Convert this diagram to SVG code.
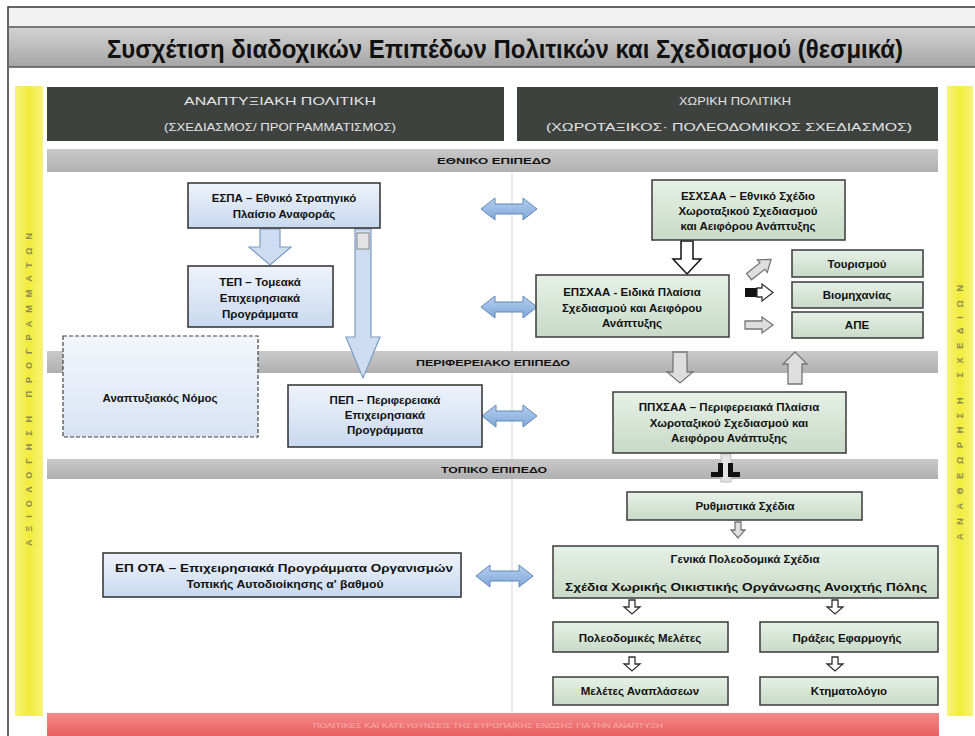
<svg xmlns="http://www.w3.org/2000/svg" width="975" height="736" viewBox="0 0 975 736">
<defs>
<linearGradient id="gTitle" x1="0" y1="0" x2="0" y2="1"><stop offset="0" stop-color="#d2d2d2"/><stop offset="0.5" stop-color="#bdbdbd"/><stop offset="1" stop-color="#a4a4a4"/></linearGradient>
<linearGradient id="gBand" x1="0" y1="0" x2="0" y2="1"><stop offset="0" stop-color="#c9c9c9"/><stop offset="1" stop-color="#b0b0b0"/></linearGradient>
<linearGradient id="gBlue" x1="0" y1="0" x2="0" y2="1"><stop offset="0" stop-color="#eef3fb"/><stop offset="1" stop-color="#c9d9ef"/></linearGradient>
<linearGradient id="gGreen" x1="0" y1="0" x2="0" y2="1"><stop offset="0" stop-color="#e6f1e6"/><stop offset="1" stop-color="#c8dac8"/></linearGradient>
<linearGradient id="gDash" x1="0" y1="0" x2="0" y2="1"><stop offset="0" stop-color="#f4f7fc"/><stop offset="1" stop-color="#d7e3f3"/></linearGradient>
<linearGradient id="gArrow" x1="0" y1="0" x2="0" y2="1"><stop offset="0" stop-color="#b5cfee"/><stop offset="1" stop-color="#7fa7d8"/></linearGradient>
<linearGradient id="gRed" x1="0" y1="0" x2="0" y2="1"><stop offset="0" stop-color="#f58a8a"/><stop offset="1" stop-color="#ea5e60"/></linearGradient>
<linearGradient id="gYel" x1="0" y1="0" x2="1" y2="0"><stop offset="0" stop-color="#f7f27a"/><stop offset="0.5" stop-color="#f2ec3c"/><stop offset="1" stop-color="#f7f27a"/></linearGradient>
<style>
.frame{fill:none;stroke:#333;stroke-width:1.5}
.hdr{fill:#3d423e}
.hdrt{font-family:'Liberation Sans Narrow','Liberation Sans',Arial,sans-serif;font-size:11px;fill:#e4e4e4;text-anchor:middle}
.band{fill:url(#gBand)}
.bandt{font-family:'Liberation Sans',Arial,sans-serif;font-weight:bold;font-size:9.5px;fill:#111;text-anchor:middle}
.blue{fill:url(#gBlue);stroke:#2f2f2f;stroke-width:1.5}
.green{fill:url(#gGreen);stroke:#3a3a3a;stroke-width:1.5}
.dash{fill:url(#gDash);stroke:#444;stroke-width:1.2;stroke-dasharray:4 2}
.t{font-family:'Liberation Sans',Arial,sans-serif;font-weight:bold;font-size:11.5px;fill:#111;text-anchor:middle}
.side{font-family:'Liberation Sans',Arial,sans-serif;font-weight:bold;font-size:9px;fill:#8d8a55;text-anchor:middle;letter-spacing:3px}
.dbl{fill:url(#gArrow);stroke:#5f88bb;stroke-width:1}
.lb{fill:#cddcf0;stroke:#7b9cc4;stroke-width:1.2}
.wo{fill:#ffffff;stroke:#111;stroke-width:1.5}
.go{fill:#dedede;stroke:#777;stroke-width:1.3}
.so{fill:#ffffff;stroke:#333;stroke-width:1.3}
</style>
</defs>
<rect x="0" y="0" width="975" height="736" fill="#ffffff"/>
<rect x="8" y="7" width="970" height="735" class="frame"/>
<rect x="9" y="8" width="966" height="19" fill="#f2f2f2"/>
<!-- title band -->
<rect x="9" y="27" width="966" height="40" fill="url(#gTitle)"/>
<line x1="9" y1="27" x2="975" y2="27" stroke="#555" stroke-width="1.5"/>
<line x1="9" y1="67" x2="975" y2="67" stroke="#555" stroke-width="1.5"/>
<text x="505" y="58" font-family="'Liberation Sans Narrow','Liberation Sans',Arial,sans-serif" font-weight="bold" font-size="25" fill="#111" text-anchor="middle" textLength="796" lengthAdjust="spacingAndGlyphs">Συσχέτιση διαδοχικών Επιπέδων Πολιτικών και Σχεδιασμού (θεσμικά)</text>
<!-- yellow side bars -->
<g id="side-left">
<rect x="15" y="86" width="28" height="630" fill="url(#gYel)"/>
<text class="side" transform="translate(32,388) rotate(-90)" textLength="316" lengthAdjust="spacing">ΑΞΙΟΛΟΓΗΣΗ      ΠΡΟΓΡΑΜΜΑΤΩΝ</text>
</g>
<g id="side-right">
<rect x="947" y="86" width="26" height="630" fill="url(#gYel)"/>
<text class="side" transform="translate(963,411) rotate(-90)" textLength="258" lengthAdjust="spacing">ΑΝΑΘΕΩΡΗΣΗ    ΣΧΕΔΙΩΝ</text>
</g>
<!-- column headers -->
<g id="hdr-left">
<rect x="47" y="87" width="457" height="54" class="hdr"/>
<text class="hdrt" x="280" y="105" textLength="192" lengthAdjust="spacingAndGlyphs">ΑΝΑΠΤΥΞΙΑΚΗ ΠΟΛΙΤΙΚΗ</text>
<text class="hdrt" x="280" y="131" textLength="232" lengthAdjust="spacingAndGlyphs">(ΣΧΕΔΙΑΣΜΟΣ/ ΠΡΟΓΡΑΜΜΑΤΙΣΜΟΣ)</text>
</g>
<g id="hdr-right">
<rect x="517" y="87" width="421" height="54" class="hdr"/>
<text class="hdrt" x="735" y="105" textLength="112" lengthAdjust="spacingAndGlyphs">ΧΩΡΙΚΗ ΠΟΛΙΤΙΚΗ</text>
<text class="hdrt" x="729" y="131" textLength="366" lengthAdjust="spacingAndGlyphs">(ΧΩΡΟΤΑΞΙΚΟΣ· ΠΟΛΕΟΔΟΜΙΚΟΣ ΣΧΕΔΙΑΣΜΟΣ)</text>
</g>
<!-- column divider -->
<line x1="512" y1="173" x2="512" y2="712" stroke="#e2e2e2" stroke-width="1.5"/>
<!-- level bands -->
<g id="band-national">
<rect x="47" y="149" width="891" height="23" class="band"/>
<text class="bandt" x="494" y="164" textLength="114" lengthAdjust="spacingAndGlyphs">ΕΘΝΙΚΟ ΕΠΙΠΕΔΟ</text>
</g>
<g id="band-regional">
<rect x="47" y="351" width="891" height="22" class="band"/>
<text class="bandt" x="493" y="366" textLength="154" lengthAdjust="spacingAndGlyphs">ΠΕΡΙΦΕΡΕΙΑΚΟ ΕΠΙΠΕΔΟ</text>
</g>
<g id="band-local">
<rect x="47" y="459" width="891" height="20" class="band"/>
<text class="bandt" x="494" y="473" textLength="106" lengthAdjust="spacingAndGlyphs">ΤΟΠΙΚΟ ΕΠΙΠΕΔΟ</text>
</g>
<!-- red bar -->
<g id="bottom-bar">
<rect x="47" y="713" width="892" height="23" fill="url(#gRed)"/>
<text x="488" y="728" font-family="'Liberation Sans',Arial,sans-serif" font-size="8px" fill="#f6b0b0" text-anchor="middle" textLength="350" lengthAdjust="spacingAndGlyphs">ΠΟΛΙΤΙΚΕΣ ΚΑΙ ΚΑΤΕΥΘΥΝΣΕΙΣ ΤΗΣ ΕΥΡΩΠΑΪΚΗΣ ΕΝΩΣΗΣ ΓΙΑ ΤΗΝ ΑΝΑΠΤΥΞΗ</text>
</g>
<!-- connectors -->
<g id="connectors">
<path class="lb" d="M260,229 L280,229 L280,247 L291,247 L270,265 L249,247 L260,247 Z"/>
<path class="lb" d="M355,229 L371,229 L371,337 L380,337 L363,378 L346,337 L355,337 Z"/>
<rect x="357" y="233" width="12" height="16" fill="#e3e3e3" stroke="#888" stroke-width="1"/>
<path class="dbl" d="M481,209 L495,198 L495,204 L523,204 L523,198 L537,209 L523,220 L523,214 L495,214 L495,220 Z"/>
<path class="dbl" d="M481,307 L495,296 L495,302 L523,302 L523,296 L537,307 L523,318 L523,312 L495,312 L495,318 Z"/>
<path class="dbl" d="M482,416 L496,405 L496,411 L523,411 L523,405 L537,416 L523,427 L523,421 L496,421 L496,427 Z"/>
<path class="dbl" d="M476,576 L490,565 L490,571 L519,571 L519,565 L533,576 L519,587 L519,581 L490,581 L490,587 Z"/>
<path class="wo" d="M681,241 L693,241 L693,259 L701,259 L687,274 L673,259 L681,259 Z"/>
<path class="go" transform="translate(760,268) rotate(-38)" d="M-14,-4 L3,-4 L3,-8 L14,0 L3,8 L3,4 L-14,4 Z"/>
<rect x="745" y="288" width="13" height="9" fill="#111"/>
<path class="so" d="M757,288 L762,288 L762,284 L773,292.5 L762,301 L762,297 L757,297 Z"/>
<path class="go" d="M745,321 L762,321 L762,317 L773,325 L762,333 L762,329 L745,329 Z"/>
<path class="go" d="M673,352 L687,352 L687,372 L693,372 L680,383 L667,372 L673,372 Z"/>
<path class="go" d="M795,352 L807,364 L802,364 L802,384 L788,384 L788,364 L783,364 Z"/>
<path fill="#e4e4e4" stroke="#bbb" stroke-width="1" d="M721,454 L731,454 L731,482 L721,482 Z"/>
<path fill="#111" d="M718,463 L723,463 L723,477 L711,477 L711,472 L718,472 Z"/>
<path fill="#111" d="M728,463 L733,463 L733,472 L740,472 L740,477 L728,477 Z"/>
<path class="go" d="M735,522 L741,522 L741,530 L745,530 L738,538 L731,530 L735,530 Z"/>
<path class="so" d="M629,600 L635,600 L635,607 L640,607 L632,614 L624,607 L629,607 Z"/>
<path class="so" d="M832,600 L838,600 L838,607 L843,607 L835,614 L827,607 L832,607 Z"/>
<path class="so" d="M629,657 L635,657 L635,664 L640,664 L632,671 L624,664 L629,664 Z"/>
<path class="so" d="M832,657 L838,657 L838,664 L843,664 L835,671 L827,664 L832,664 Z"/>
</g>
<!-- left nodes -->
<g id="espa">
<rect x="188" y="183" width="192" height="45" class="blue"/>
<text class="t" x="284" y="202">ΕΣΠΑ – Εθνικό Στρατηγικό</text>
<text class="t" x="284" y="218">Πλαίσιο Αναφοράς</text>
</g>
<g id="tep">
<rect x="188" y="266" width="145" height="61" class="blue"/>
<text class="t" x="260" y="286">ΤΕΠ – Τομεακά</text>
<text class="t" x="260" y="302">Επιχειρησιακά</text>
<text class="t" x="260" y="318">Προγράμματα</text>
</g>
<g id="anaptyxiakos-nomos">
<rect x="63" y="336" width="195" height="101" class="dash"/>
<text class="t" x="160" y="402">Αναπτυξιακός Νόμος</text>
</g>
<g id="pep">
<rect x="288" y="385" width="194" height="62" class="blue"/>
<text class="t" x="385" y="404">ΠΕΠ – Περιφερειακά</text>
<text class="t" x="385" y="419">Επιχειρησιακά</text>
<text class="t" x="385" y="434">Προγράμματα</text>
</g>
<g id="ep-ota">
<rect x="103" y="553" width="358" height="44" class="blue"/>
<text class="t" x="284" y="572" textLength="338" lengthAdjust="spacingAndGlyphs">ΕΠ ΟΤΑ – Επιχειρησιακά Προγράμματα Οργανισμών</text>
<text class="t" x="285" y="588" textLength="197" lengthAdjust="spacingAndGlyphs">Τοπικής Αυτοδιοίκησης α' βαθμού</text>
</g>
<!-- right nodes -->
<g id="esxsaa">
<rect x="652" y="180" width="193" height="60" class="green"/>
<text class="t" x="748" y="200">ΕΣΧΣΑΑ – Εθνικό Σχέδιο</text>
<text class="t" x="748" y="215">Χωροταξικού Σχεδιασμού</text>
<text class="t" x="748" y="230">και Αειφόρου Ανάπτυξης</text>
</g>
<g id="epsxaa">
<rect x="536" y="275" width="193" height="62" class="green"/>
<text class="t" x="632" y="296">ΕΠΣΧΑΑ - Ειδικά Πλαίσια</text>
<text class="t" x="632" y="312">Σχεδιασμού και Αειφόρου</text>
<text class="t" x="632" y="327">Ανάπτυξης</text>
</g>
<g id="tourismou">
<rect x="792" y="250" width="131" height="27" class="green"/>
<text class="t" x="857" y="268">Τουρισμού</text>
</g>
<g id="viomichanias">
<rect x="792" y="282" width="131" height="26" class="green"/>
<text class="t" x="857" y="299">Βιομηχανίας</text>
</g>
<g id="ape">
<rect x="792" y="312" width="131" height="26" class="green"/>
<text class="t" x="857" y="329">ΑΠΕ</text>
</g>
<g id="ppxsaa">
<rect x="613" y="392" width="233" height="61" class="green"/>
<text class="t" x="729" y="411">ΠΠΧΣΑΑ – Περιφερειακά Πλαίσια</text>
<text class="t" x="729" y="427">Χωροταξικού Σχεδιασμού και</text>
<text class="t" x="729" y="442">Αειφόρου Ανάπτυξης</text>
</g>
<g id="rythmistika">
<rect x="627" y="492" width="235" height="28" class="green"/>
<text class="t" x="745" y="510">Ρυθμιστικά Σχέδια</text>
</g>
<g id="genika">
<rect x="553" y="546" width="385" height="52" class="green"/>
<text class="t" x="745" y="563">Γενικά Πολεοδομικά Σχέδια</text>
<text class="t" x="746" y="591" textLength="362" lengthAdjust="spacingAndGlyphs">Σχέδια Χωρικής Οικιστικής Οργάνωσης Ανοιχτής Πόλης</text>
</g>
<g id="poleodomikes-meletes">
<rect x="553" y="622" width="175" height="30" class="green"/>
<text class="t" x="640" y="642">Πολεοδομικές Μελέτες</text>
</g>
<g id="praxeis-efarmogis">
<rect x="760" y="622" width="178" height="30" class="green"/>
<text class="t" x="847" y="642">Πράξεις Εφαρμογής</text>
</g>
<g id="meletes-anaplaseon">
<rect x="553" y="677" width="175" height="28" class="green"/>
<text class="t" x="640" y="695">Μελέτες Αναπλάσεων</text>
</g>
<g id="ktimatologio">
<rect x="760" y="677" width="178" height="28" class="green"/>
<text class="t" x="849" y="695">Κτηματολόγιο</text>
</g>
</svg>
